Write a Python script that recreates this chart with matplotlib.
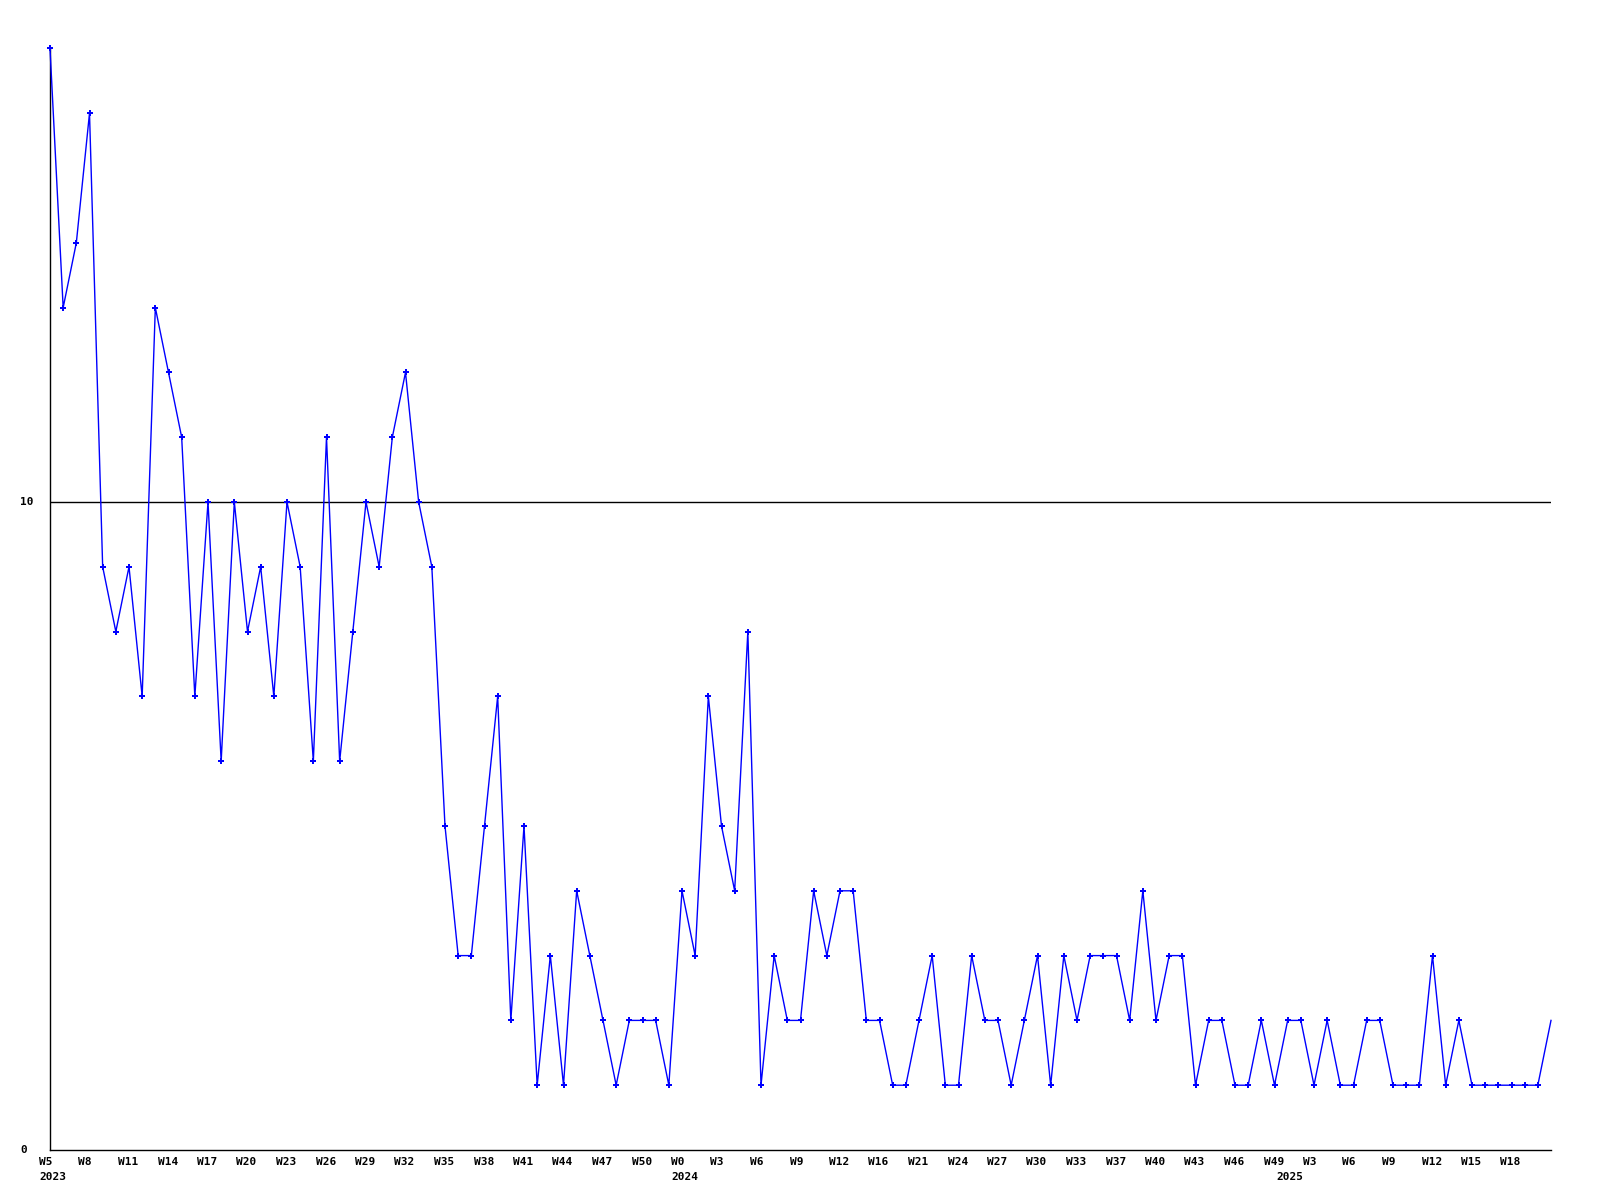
import matplotlib
matplotlib.use("Agg")
import matplotlib.pyplot as plt

# weekly counts, one per point
values = [17, 13, 14, 16, 9, 8, 9, 7, 13, 12,
          11, 7, 10, 6, 10, 8, 9, 7, 10, 9,
          6, 11, 6, 8, 10, 9, 11, 12, 10, 9,
          5, 3, 3, 5, 7, 2, 5, 1, 3, 1,
          4, 3, 2, 1, 2, 2, 2, 1, 4, 3,
          7, 5, 4, 8, 1, 3, 2, 2, 4, 3,
          4, 4, 2, 2, 1, 1, 2, 3, 1, 1,
          3, 2, 2, 1, 2, 3, 1, 3, 2, 3,
          3, 3, 2, 4, 2, 3, 3, 1, 2, 2,
          1, 1, 2, 1, 2, 2, 1, 2, 1, 1,
          2, 2, 1, 1, 1, 3, 1, 2, 1, 1,
          1, 1, 1, 1, 2]

week_labels = ["W5", "W8", "W11", "W14", "W17", "W20", "W23", "W26", "W29", "W32",
               "W35", "W38", "W41", "W44", "W47", "W50", "W0", "W3", "W6", "W9",
               "W12", "W16", "W21", "W24", "W27", "W30", "W33", "W37", "W40", "W43",
               "W46", "W49", "W3", "W6", "W9", "W12", "W15", "W18"]
week_pos = list(range(0, 3 * len(week_labels), 3))

year_labels = ["2023", "2024", "2025"]
year_pos = [0, 48, 94]

y_ticks = [0, 10]

x = list(range(len(values)))

fig = plt.figure(figsize=(16, 12), dpi=100)
ax = fig.add_axes([50 / 1600, 50 / 1200, 1501 / 1600, 1101.6 / 1200])

font = dict(family="DejaVu Sans Mono", weight="bold", size=8)

ax.axhline(10, color="black", lw=1)
# last point sits on the frame edge and has no marker
ax.plot(x, values, color="#0000ff", lw=1.0, marker="P", markersize=4.5,
        markeredgewidth=0, markevery=slice(0, len(values) - 1), clip_on=False, zorder=3)

ax.set_xlim(0, len(values) - 1)
ax.set_ylim(0, 17)
for s in ["top", "right"]:
    ax.spines[s].set_visible(False)
for s in ["left", "bottom"]:
    ax.spines[s].set_linewidth(1)
    ax.spines[s].set_color("black")
ax.set_xticks([])
ax.set_yticks([])

for lab, p in zip(week_labels, week_pos):
    ax.annotate(lab, xy=(p, 0), xycoords=("data", "axes fraction"),
                xytext=(-11, -12), textcoords="offset pixels",
                ha="left", va="center", **font)
for lab, p in zip(year_labels, year_pos):
    ax.annotate(lab, xy=(p, 0), xycoords=("data", "axes fraction"),
                xytext=(-11, -27), textcoords="offset pixels",
                ha="left", va="center", **font)
for t in y_ticks:
    ax.annotate(str(t), xy=(0, t), xycoords=("axes fraction", "data"),
                xytext=(-30, 0), textcoords="offset pixels",
                ha="left", va="center", **font)

fig.savefig("out.png", dpi=100)
